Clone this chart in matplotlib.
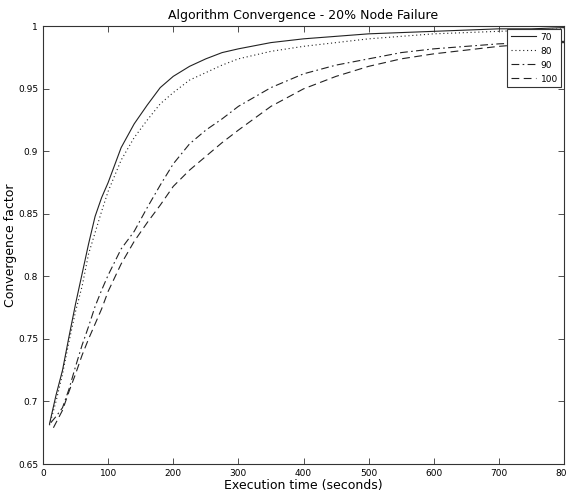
import numpy as np
import matplotlib
matplotlib.use("Agg")
import matplotlib.pyplot as plt
from matplotlib.ticker import FormatStrFormatter

# datos
t70 = [10, 20, 30, 40, 50, 60, 70, 80, 90, 100, 120, 140, 160, 180, 200, 225, 250, 275, 300, 350, 400, 450, 500, 550, 600, 650, 700, 750, 800]
c70 = [0.682, 0.705, 0.725, 0.752, 0.778, 0.802, 0.826, 0.848, 0.863, 0.875, 0.903, 0.922, 0.937, 0.951, 0.960, 0.968, 0.974, 0.979, 0.982, 0.987, 0.990, 0.992, 0.994, 0.995, 0.996, 0.997, 0.998, 0.998, 0.999]

t80 = [10, 20, 30, 40, 50, 60, 70, 80, 90, 100, 120, 140, 160, 180, 200, 225, 250, 275, 300, 350, 400, 450, 500, 550, 600, 650, 700, 750, 800]
c80 = [0.681, 0.700, 0.722, 0.748, 0.772, 0.792, 0.818, 0.835, 0.852, 0.868, 0.893, 0.911, 0.925, 0.938, 0.947, 0.957, 0.963, 0.969, 0.974, 0.980, 0.984, 0.987, 0.990, 0.992, 0.994, 0.995, 0.996, 0.997, 0.998]

t90 = [12, 20, 30, 40, 50, 60, 70, 80, 90, 100, 120, 140, 160, 180, 200, 225, 250, 275, 300, 350, 400, 450, 500, 550, 600, 650, 700, 750, 800]
c90 = [0.683, 0.688, 0.695, 0.710, 0.728, 0.745, 0.760, 0.776, 0.789, 0.801, 0.822, 0.836, 0.855, 0.873, 0.890, 0.906, 0.917, 0.926, 0.936, 0.951, 0.962, 0.969, 0.974, 0.979, 0.982, 0.984, 0.986, 0.987, 0.988]

t100 = [16, 20, 30, 40, 50, 60, 70, 80, 90, 100, 120, 140, 160, 180, 200, 225, 250, 275, 300, 350, 400, 450, 500, 550, 600, 650, 700, 750, 800]
c100 = [0.679, 0.683, 0.693, 0.708, 0.722, 0.737, 0.750, 0.762, 0.774, 0.788, 0.810, 0.828, 0.843, 0.857, 0.872, 0.885, 0.896, 0.907, 0.917, 0.936, 0.950, 0.960, 0.968, 0.974, 0.978, 0.981, 0.984, 0.986, 0.987]

fig = plt.figure(figsize=(5.67, 4.94), dpi=100)
ax = fig.add_axes([0.0758, 0.0607, 0.919, 0.886])

col = "#222222"
ax.plot(t70, c70, color=col, lw=0.8, linestyle="-", label="70")
ax.plot(t80, c80, color=col, lw=0.8, linestyle=(0, (1, 2.5)), label="80")
ax.plot(t90, c90, color=col, lw=0.8, linestyle=(0, (7, 3, 1.5, 3)), label="90")
ax.plot(t100, c100, color=col, lw=0.8, linestyle=(0, (7, 4)), label="100")

ax.set_xlim(0, 800)
ax.set_ylim(0.65, 1)
ax.set_xticks(np.arange(0, 801, 100))
ax.set_yticks(np.arange(0.65, 1.001, 0.05))
ax.yaxis.set_major_formatter(FormatStrFormatter("%g"))
ax.tick_params(direction="in", top=True, right=True, labelsize=6.5, length=4, width=0.6, color="#333333")
for s in ax.spines.values():
    s.set_linewidth(0.8)
    s.set_color("#333333")

ax.set_title("Algorithm Convergence - 20% Node Failure", fontsize=9, pad=5)
ax.set_xlabel("Execution time (seconds)", fontsize=9, labelpad=1)
ax.set_ylabel("Convergence factor", fontsize=9, labelpad=1)

leg = ax.legend(loc="upper right", fontsize=6.5, fancybox=False, edgecolor="#333333",
                handlelength=2.8, handletextpad=0.5, borderaxespad=0.3, borderpad=0.4,
                labelspacing=0.55, framealpha=1)
leg.get_frame().set_linewidth(0.8)

plt.savefig("out.png", dpi=100)
